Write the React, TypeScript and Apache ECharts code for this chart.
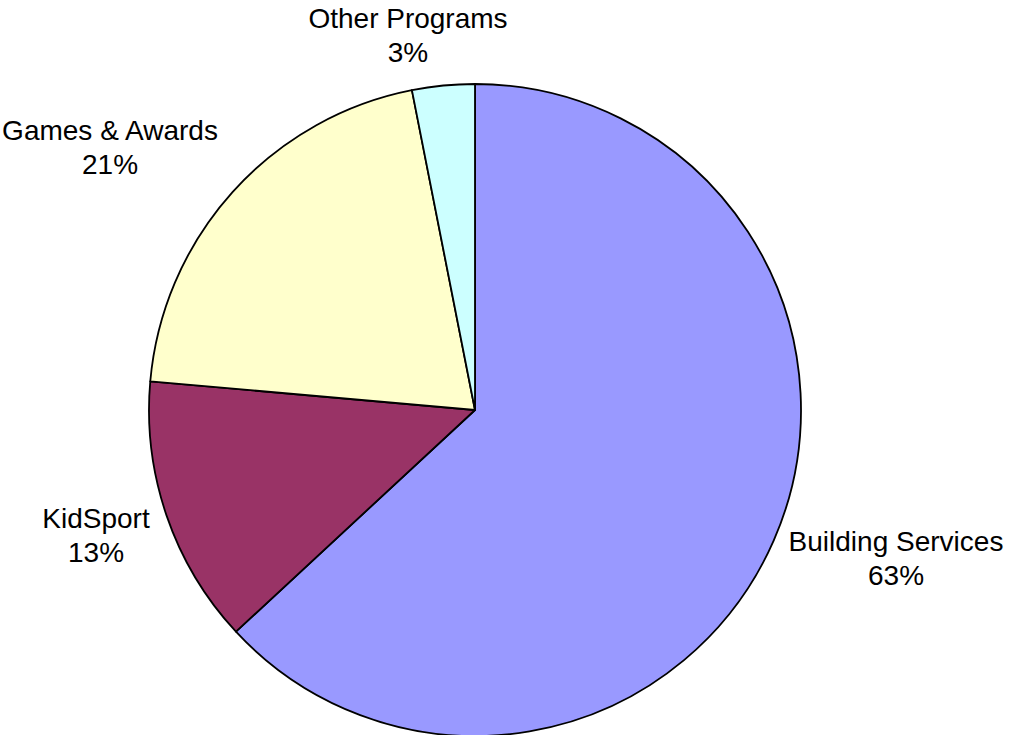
import React, { useEffect, useRef } from "react";
import * as echarts from "echarts";

// Share of spending by program (percent)
const categories = ["Building Services", "KidSport", "Games & Awards", "Other Programs"];
const shares = [63.1, 13.3, 20.5, 3.1];
const sliceColors = ["#9999FF", "#993366", "#FFFFCC", "#CCFFFF"];

// Label anchor points (centre of each two-line label), in chart pixels
const labelAnchors: [number, number][] = [
  [896, 558],
  [96, 535],
  [110, 147],
  [408, 35],
];

export default function App() {
  const ref = useRef<HTMLDivElement>(null);

  useEffect(() => {
    if (!ref.current) return;
    const chart = echarts.init(ref.current, null, { renderer: "svg" });
    chart.setOption({
      animation: false,
      backgroundColor: "#ffffff",
      series: [
        {
          type: "pie",
          center: [475, 410],
          radius: 326,
          startAngle: 90,
          clockwise: true,
          percentPrecision: 0,
          avoidLabelOverlap: false,
          data: categories.map((name, i) => ({
            name,
            value: shares[i],
            itemStyle: { color: sliceColors[i] },
          })),
          itemStyle: { borderColor: "#000000", borderWidth: 1.8 },
          label: {
            show: true,
            position: "outside",
            formatter: "{b}\n{d}%",
            fontFamily: "Liberation Sans, Arial, sans-serif",
            fontSize: 28,
            lineHeight: 34,
            color: "#000000",
            align: "center",
          },
          labelLine: { show: false },
          labelLayout: (params: any) => {
            const p = labelAnchors[params.dataIndex];
            return { x: p[0], y: p[1], align: "center", verticalAlign: "middle" };
          },
          emphasis: { disabled: true },
        },
      ],
    });
    return () => chart.dispose();
  }, []);

  return (
    <div
      ref={ref}
      style={{ position: "fixed", left: 0, top: 0, width: 1009, height: 735 }}
    />
  );
}
